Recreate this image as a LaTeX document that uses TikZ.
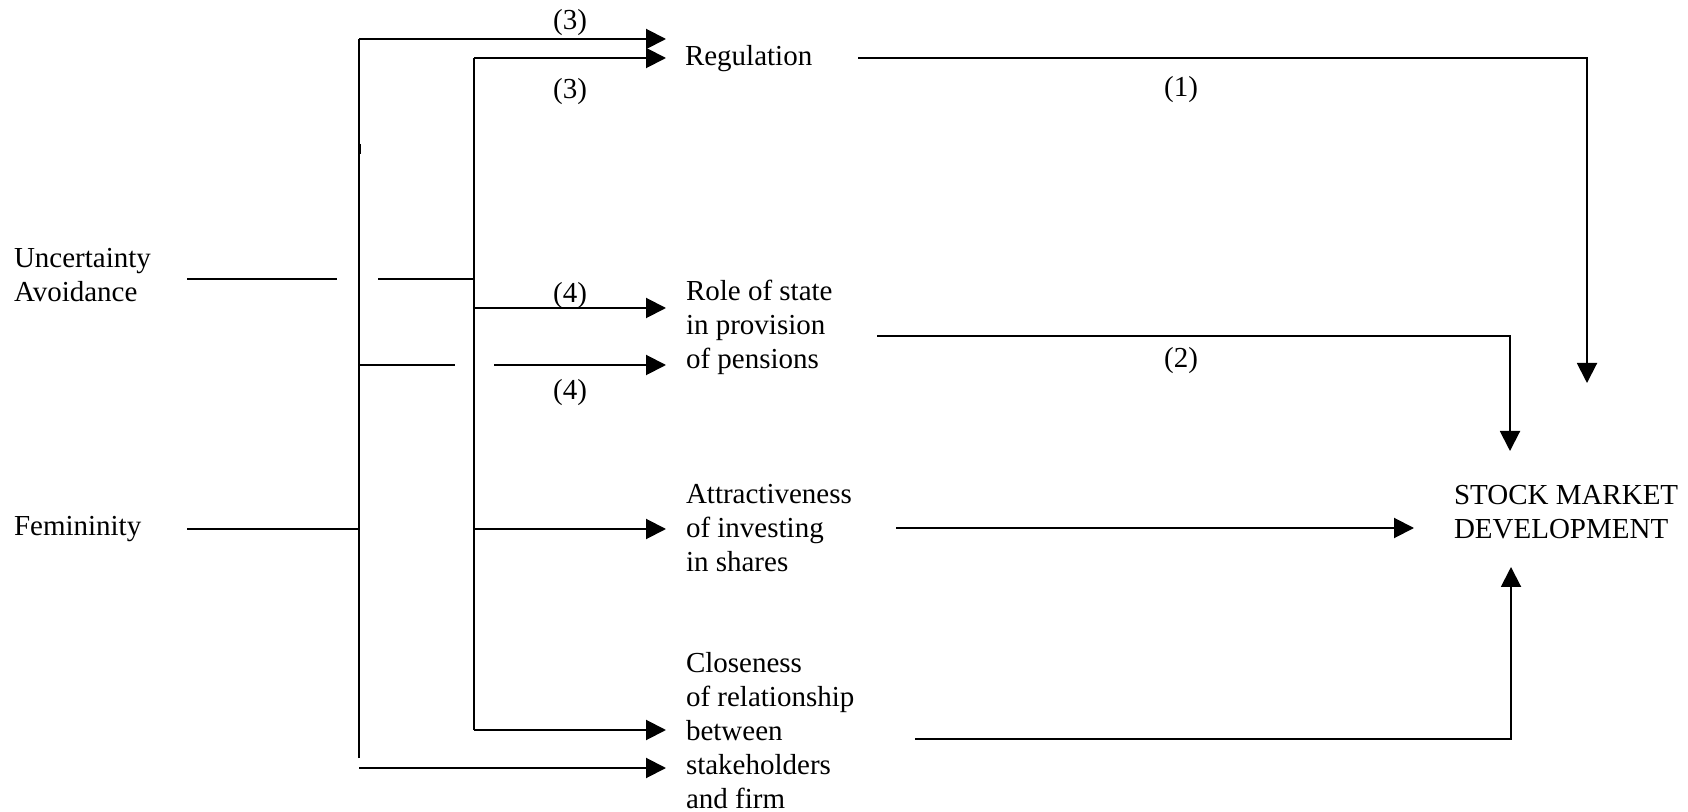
\documentclass[tikz,border=0pt]{standalone}
\usepackage{fontspec}
\setmainfont{Liberation Serif}
\usetikzlibrary{arrows.meta}
\begin{document}
\begin{tikzpicture}[x=0.5pt,y=-0.5pt,
  every node/.style={inner sep=0pt,outer sep=0pt,font=\fontsize{14.5pt}{17pt}\selectfont},
  txt/.style={anchor=west,align=left},
  lbl/.style={anchor=center},
  ln/.style={line width=1pt},
  arr/.style={line width=1pt,-{Triangle[length=10pt,width=10pt]}}]
\useasboundingbox (0,0) rectangle (1688,812);
% text nodes
\node[txt] (ua) at (14,275) {Uncertainty\\Avoidance};
\node[txt] (fem) at (14,529) {Femininity};
\node[txt] (reg) at (685,59) {Regulation};
\node[txt] (role) at (686,327) {Role of state\\in provision\\of pensions};
\node[txt] (attr) at (686,528) {Attractiveness\\of investing\\in shares};
\node[txt] (clo) at (686,731) {Closeness\\of relationship\\between\\stakeholders\\and firm};
\node[txt] (smd) at (1454,512) {STOCK MARKET\\DEVELOPMENT};
\node[lbl] (l3a) at (570,23) {(3)};
\node[lbl] (l3b) at (570,92) {(3)};
\node[lbl] (l4a) at (570,296) {(4)};
\node[lbl] (l4b) at (570,393) {(4)};
\node[lbl] (l1) at (1181,90) {(1)};
\node[lbl] (l2) at (1181,361) {(2)};
% coordinates
\coordinate (a1) at (359,39);
\coordinate (a2) at (359,758);
\coordinate (ak1) at (359,144);
\coordinate (ak2) at (359,154);
\coordinate (b1) at (474,58);
\coordinate (b2) at (474,730);
\coordinate (ta1) at (666,39);
\coordinate (tb1) at (666,58);
\coordinate (ua1) at (187,279);
\coordinate (ua2) at (337,279);
\coordinate (ua3) at (378,279);
\coordinate (ua4) at (474,279);
\coordinate (b308) at (474,308);
\coordinate (t308) at (666,308);
\coordinate (a365) at (359,365);
\coordinate (g365) at (455,365);
\coordinate (h365) at (494,365);
\coordinate (t365) at (666,365);
\coordinate (fem1) at (187,529);
\coordinate (a529) at (359,529);
\coordinate (b529) at (474,529);
\coordinate (t529) at (666,529);
\coordinate (t730) at (666,730);
\coordinate (a768) at (359,768);
\coordinate (t768) at (666,768);
\coordinate (r1) at (858,58);
\coordinate (r2) at (1587,58);
\coordinate (r3) at (1587,383);
\coordinate (s1) at (877,336);
\coordinate (s2) at (1510,336);
\coordinate (s3) at (1510,451);
\coordinate (i1) at (896,528);
\coordinate (i2) at (1414,528);
\coordinate (c1) at (915,739);
\coordinate (c2) at (1511,739);
\coordinate (c3) at (1511,567);
% left network
\draw[ln] (a2) -- (a1);
\draw[line width=1.5pt] (ak1) -- (ak2);
\draw[arr] (a1) -- (ta1);
\draw[ln] (b2) -- (b1);
\draw[arr] (b1) -- (tb1);
\draw[ln] (ua1) -- (ua2);
\draw[ln] (ua3) -- (ua4);
\draw[arr] (b308) -- (t308);
\draw[ln] (a365) -- (g365);
\draw[arr] (h365) -- (t365);
\draw[ln] (fem1) -- (a529);
\draw[arr] (b529) -- (t529);
\draw[arr] (b2) -- (t730);
\draw[arr] (a768) -- (t768);
% right network
\draw[ln,-{Triangle[length=10pt,width=10pt]}] (r1) -- (r2) -- (r3);
\draw[ln,-{Triangle[length=10pt,width=10pt]}] (s1) -- (s2) -- (s3);
\draw[arr] (i1) -- (i2);
\draw[ln,-{Triangle[length=10pt,width=10pt]}] (c1) -- (c2) -- (c3);
\end{tikzpicture}
\end{document}
